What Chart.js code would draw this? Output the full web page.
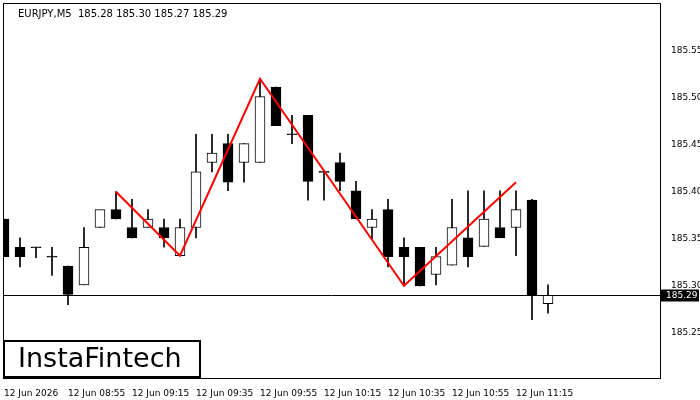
<!DOCTYPE html>
<html><head><meta charset="utf-8">
<script src="https://cdn.jsdelivr.net/npm/chart.js@4/dist/chart.umd.min.js"></script>
<style>html,body{margin:0;padding:0;background:#fff}canvas{display:block}</style>
</head><body>
<div style="width:700px;height:400px"><canvas id="c"></canvas></div>
<script>
const opens  = [185.371,185.341,185.341,185.331,185.321,185.301,185.362,185.381,185.362,185.362,185.362,185.332,185.362,185.431,185.451,185.431,185.431,185.511,185.461,185.481,185.421,185.431,185.401,185.362,185.381,185.341,185.341,185.312,185.322,185.351,185.342,185.362,185.362,185.391,185.281];
const highs  = [185.371,185.351,185.341,185.341,185.321,185.362,185.371,185.400,185.392,185.381,185.371,185.371,185.461,185.461,185.461,185.451,185.520,185.511,185.481,185.481,185.421,185.441,185.411,185.381,185.392,185.351,185.341,185.341,185.392,185.401,185.401,185.401,185.401,185.392,185.301];
const lows   = [185.331,185.320,185.330,185.311,185.280,185.301,185.362,185.371,185.351,185.362,185.341,185.332,185.351,185.421,185.401,185.410,185.431,185.470,185.451,185.391,185.391,185.401,185.371,185.349,185.320,185.301,185.300,185.301,185.322,185.320,185.342,185.362,185.332,185.264,185.271];
const closes = [185.331,185.331,185.341,185.331,185.291,185.341,185.381,185.371,185.351,185.371,185.351,185.362,185.421,185.441,185.410,185.451,185.501,185.470,185.461,185.411,185.421,185.411,185.371,185.371,185.331,185.331,185.300,185.331,185.362,185.331,185.371,185.351,185.381,185.290,185.290];
const zigIdx = [7, 11, 16, 25, 32];
const zigVal = [185.400, 185.332, 185.520, 185.300, 185.410];
const yTicks = [185.25, 185.30, 185.35, 185.40, 185.45, 185.50, 185.55];
const xTickIdx = [0, 4, 8, 12, 16, 20, 24, 28, 32];
const xTickLabels = ["12 Jun 2026","12 Jun 08:55","12 Jun 09:15","12 Jun 09:35","12 Jun 09:55","12 Jun 10:15","12 Jun 10:35","12 Jun 10:55","12 Jun 11:15"];
const lastPrice = 185.29;
const title = "EURJPY,M5  185.28 185.30 185.27 185.29";

const wick = opens.map((o,i)=>({x:i,y:[lows[i],highs[i]]}));
const body = opens.map((o,i)=>{let a=o,b=closes[i]; if(Math.abs(a-b)<0.0005){b=a+0.0005;a=a-0.0005;} return {x:i,y:[a,b]};});
const bodyFill = opens.map((o,i)=> Math.abs(closes[i]-o)<0.0005 ? '#000' : (closes[i]<o ? '#000' : '#fff'));

const deco = {
  id:'deco',
  afterDatasetsDraw(ch){
    const c=ch.ctx, a=ch.chartArea, y=ch.scales.y;
    c.save();
    const py=Math.round(y.getPixelForValue(lastPrice))+0.5;
    c.strokeStyle='#000';c.lineWidth=1;
    c.beginPath();c.moveTo(a.left,py);c.lineTo(a.right,py);c.stroke();
    c.strokeRect(a.left+0.5,3.5,a.right-a.left,a.bottom-3);
    c.fillStyle='#000';c.font='10px "DejaVu Sans"';c.textBaseline='middle';c.textAlign='left';
    c.fillText(title,18,14);
    c.fillStyle='#000';c.fillRect(a.right+1,py-6,38,12);
    c.fillStyle='#fff';c.font='9px "DejaVu Sans"';c.fillText(lastPrice.toFixed(2),a.right+6,py);
    c.fillStyle='#fff';c.fillRect(3,340,198,38);
    c.strokeStyle='#000';c.lineWidth=2;c.strokeRect(4,341,196,36);
    c.fillStyle='#000';c.font='27px "DejaVu Sans"';c.textAlign='left';
    c.fillText('InstaFintech',18,360);
    c.restore();
  }
};

new Chart(document.getElementById('c'),{
  data:{datasets:[
    {type:'bar',data:wick,backgroundColor:'#000',barThickness:1,grouped:false,order:3},
    {type:'bar',data:body,backgroundColor:bodyFill,borderColor:'#000',borderWidth:1,borderSkipped:false,barThickness:10,grouped:false,order:2},
    {type:'line',data:zigIdx.map((x,i)=>({x,y:zigVal[i]})),borderColor:'#ff0000',borderWidth:2,pointRadius:0,tension:0,order:1,clip:false}
  ]},
  options:{
    animation:false,responsive:true,maintainAspectRatio:false,
    layout:{padding:{left:3,top:0,right:0,bottom:0}},
    plugins:{legend:{display:false},tooltip:{enabled:false}},
    scales:{
      x:{type:'linear',min:-0.0625,max:41,offset:false,grid:{display:false,drawTicks:true},border:{display:false},
        afterBuildTicks(s){s.ticks=xTickIdx.map(v=>({value:v}));},
        afterFit(s){s.height=22;},
        ticks:{align:'start',maxRotation:0,autoSkip:false,padding:2,color:'#000',font:{size:9,family:'DejaVu Sans'},
          callback(v){const k=xTickIdx.indexOf(v);return k>=0?xTickLabels[k]:'';}}},
      y:{position:'right',min:185.2021,max:185.5947,grid:{display:false},border:{display:false},
        afterBuildTicks(s){s.ticks=yTicks.map(v=>({value:v}));},
        afterFit(s){s.width=40;},
        ticks:{color:'#000',padding:3,font:{size:9,family:'DejaVu Sans'},callback:v=>v.toFixed(2)}}
    }
  },
  plugins:[deco]
});
</script></body></html>
